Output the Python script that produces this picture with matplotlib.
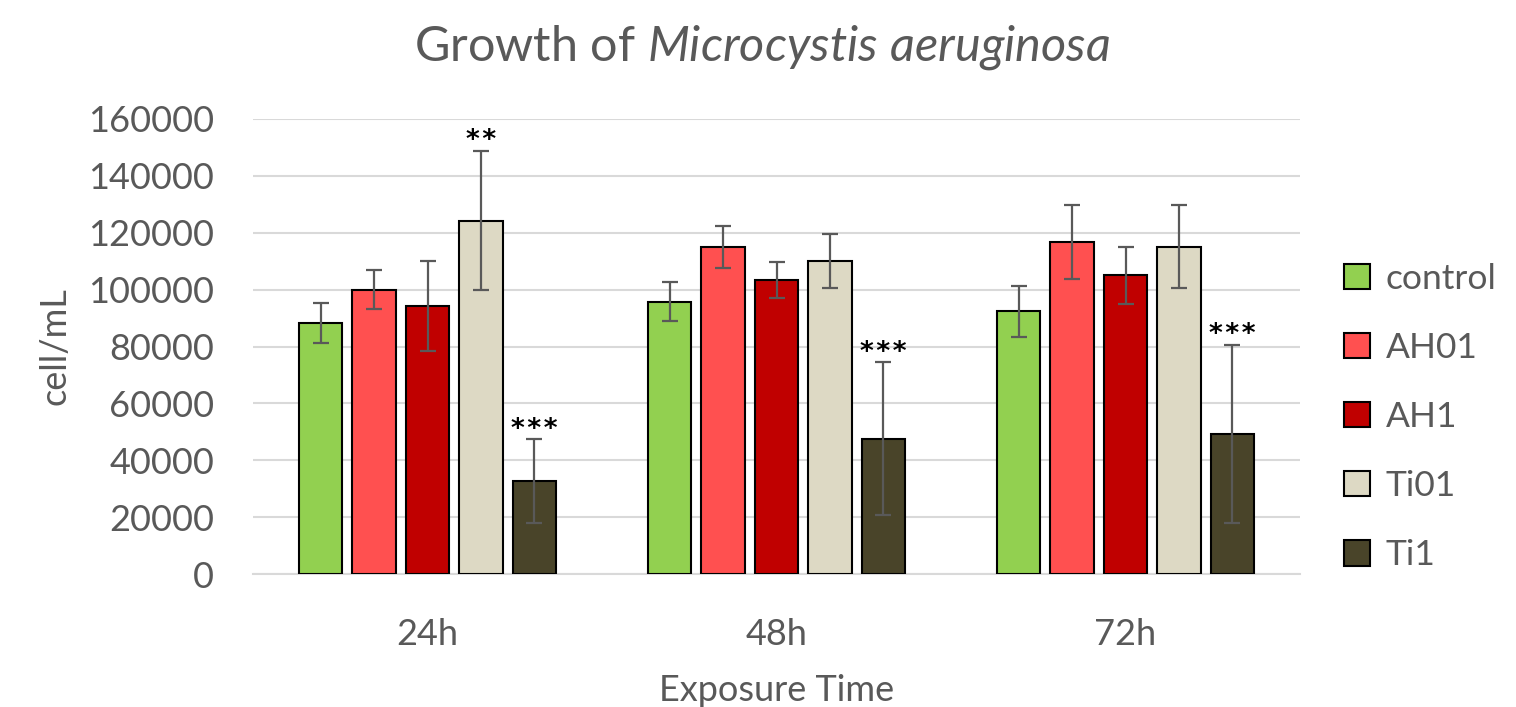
import matplotlib
matplotlib.use("Agg")
import matplotlib.pyplot as plt
import numpy as np

plt.rcParams['font.family'] = ['Lato', 'DejaVu Sans']
plt.rcParams['mathtext.fontset'] = 'custom'
plt.rcParams['mathtext.rm'] = 'Lato'
plt.rcParams['mathtext.it'] = 'Lato:italic'

categories = ["24h", "48h", "72h"]
series = ["control", "AH01", "AH1", "Ti01", "Ti1"]
colors = ["#92D050", "#FF5050", "#C00000", "#DDD9C4", "#494429"]

control = [88400, 95800, 92400]
ah01 = [100000, 115100, 116700]
ah1 = [94200, 103300, 105100]
ti01 = [124300, 110000, 115100]
ti1 = [32600, 47500, 49300]

control_err = [7000, 6900, 8900]
ah01_err = [6900, 7400, 12900]
ah1_err = [15700, 6300, 10000]
ti01_err = [24500, 9500, 14500]
ti1_err = [14800, 26900, 31300]

significance = [["", "", "", "**", "***"],
                ["", "", "", "", "***"],
                ["", "", "", "", "***"]]

values = [control, ah01, ah1, ti01, ti1]
errors = [control_err, ah01_err, ah1_err, ti01_err, ti1_err]

grey = "#595959"
fig = plt.figure(figsize=(15.16, 7.07), dpi=100)
ax = fig.add_axes([253/1516, 1-574/707, (1300-253)/1516, (574-119)/707])

x = np.arange(len(categories))
pitch = 0.153
width = 0.124
for j, (name, vals, errs, col) in enumerate(zip(series, values, errors, colors)):
    pos = x + (j - 2) * pitch
    ax.bar(pos, vals, width=width, color=col, edgecolor="black", linewidth=1.5,
           label=name, zorder=3)
    ax.errorbar(pos, vals, yerr=errs, fmt="none", ecolor=grey, elinewidth=1.6,
                capsize=5.5, capthick=1.6, zorder=4)
    for i in range(len(categories)):
        s = significance[i][j]
        if s:
            ax.annotate("\u200a".join(s), (pos[i], vals[i] + errs[i]), xytext=(0, 1.8),
                        textcoords="offset points", ha="center", va="baseline",
                        fontsize=19, fontweight="bold", color="black",
                        family="DejaVu Sans")

ax.set_xlim(-0.5, 2.5)
ax.set_ylim(0, 160000)
ax.set_yticks(np.arange(0, 160001, 20000))
ax.set_yticklabels([str(v) for v in range(0, 160001, 20000)])
ax.set_xticks(x)
ax.set_xticklabels(categories)
ax.yaxis.grid(True, color="#D9D9D9", linewidth=1.5, zorder=0)
ax.set_axisbelow(True)
for sp in ["top", "right", "left"]:
    ax.spines[sp].set_visible(False)
ax.spines["bottom"].set_color("#D9D9D9")
ax.spines["bottom"].set_linewidth(1.5)
ax.tick_params(axis="both", length=0, labelsize=26, colors=grey)
ax.tick_params(axis="y", pad=28)
ax.tick_params(axis="x", pad=32)
ax.set_ylabel("cell/mL", fontsize=26, color=grey, labelpad=12)
ax.set_xlabel("Exposure Time", fontsize=26, color=grey, labelpad=16)

fig.text(0.503, 0.933, r"Growth of $\mathit{Microcystis\ aeruginosa}$",
         ha="center", va="center", fontsize=35, color=grey)

leg = ax.legend(loc="center left", bbox_to_anchor=(1.012, 0.345), frameon=False,
                fontsize=25.5, labelcolor=grey, handlelength=0.72, handleheight=0.72,
                handletextpad=0.45, labelspacing=1.05)

fig.savefig("out.png", dpi=100)
